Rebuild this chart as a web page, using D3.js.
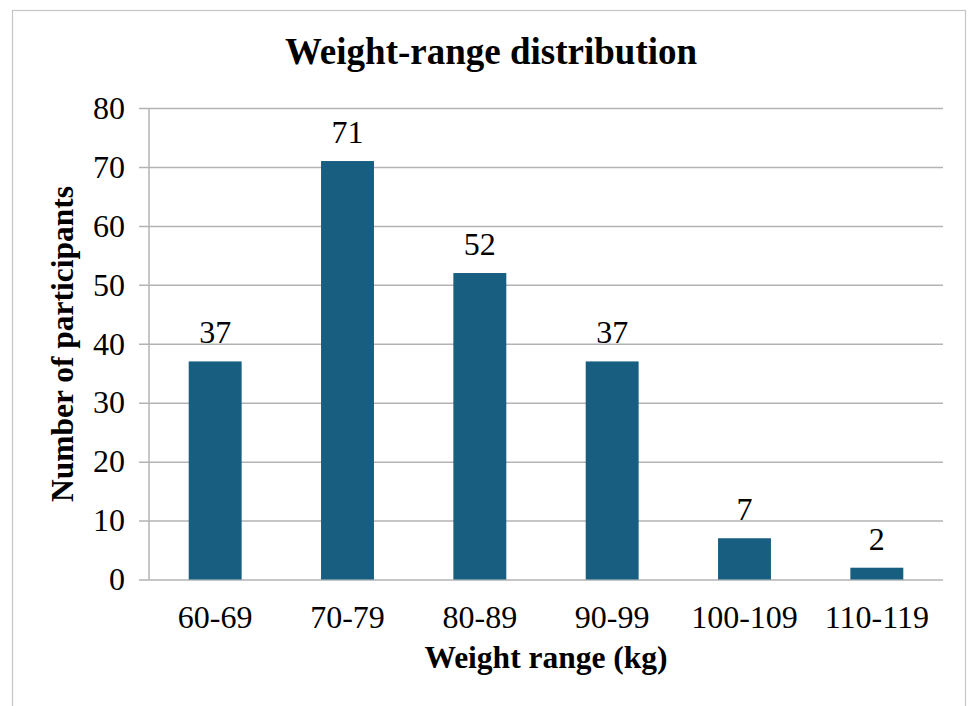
<!DOCTYPE html>
<html>
<head>
<meta charset="utf-8">
<script src="https://cdn.jsdelivr.net/npm/d3@7"></script>
<style>
  html, body { margin: 0; padding: 0; background: #ffffff; }
  svg { display: block; }
  svg text { font-family: "Liberation Serif", "Times New Roman", serif; }
</style>
</head>
<body>
<svg id="chart" width="974" height="706"></svg>
<script>
const categories = ["60-69", "70-79", "80-89", "90-99", "100-109", "110-119"];
const values = [37, 71, 52, 37, 7, 2];
const yTicks = [0, 10, 20, 30, 40, 50, 60, 70, 80];
const titleText = "Weight-range distribution";
const xTitle = "Weight range (kg)";
const yTitle = "Number of participants";

const FONT = '"Liberation Serif", "Times New Roman", serif';
const svg = d3.select("#chart");
const plot = { left: 149, right: 943, top: 108, bottom: 579.5 };

// outer chart border
svg.append("rect")
  .attr("x", 12.5).attr("y", 10.5)
  .attr("width", 953).attr("height", 720)
  .attr("fill", "#ffffff")
  .attr("stroke", "#c6c6c6").attr("stroke-width", 1.2);

const x = d3.scaleBand().domain(categories).range([plot.left, plot.right]).paddingInner(0.6).paddingOuter(0.3);
const y = d3.scaleLinear().domain([0, 80]).range([plot.bottom, plot.top]);

// gridlines + y axis
const yAxis = d3.axisLeft(y).tickValues(yTicks).tickSize(plot.right - plot.left + 10).tickPadding(14).tickFormat(d3.format("d"));
const gy = svg.append("g").attr("transform", `translate(${plot.right},0)`).call(yAxis);
gy.attr("font-family", null);
gy.select(".domain").remove();
gy.selectAll(".tick line").attr("stroke", "#b3b3b3").attr("stroke-width", 1.5);
gy.selectAll(".tick text").style("font-family", FONT).attr("font-size", 32).attr("fill", "#000");

// vertical axis line
svg.append("line")
  .attr("x1", plot.left).attr("x2", plot.left)
  .attr("y1", plot.top).attr("y2", plot.bottom)
  .attr("stroke", "#b3b3b3").attr("stroke-width", 1.5);

// bars
svg.append("g").selectAll("rect").data(values).join("rect")
  .attr("x", (d, i) => x(categories[i]))
  .attr("y", d => y(d))
  .attr("width", x.bandwidth())
  .attr("height", d => y(0) - y(d))
  .attr("fill", "#175e80");

// data labels
svg.append("g").selectAll("text").data(values).join("text")
  .attr("x", (d, i) => x(categories[i]) + x.bandwidth() / 2)
  .attr("y", d => y(d) - 18)
  .attr("text-anchor", "middle")
  .style("font-family", FONT)
  .attr("font-size", 32)
  .attr("fill", "#000")
  .text(d => d);

// x axis labels
const xAxis = d3.axisBottom(x).tickSize(0).tickPadding(0);
const gx = svg.append("g").attr("transform", `translate(0,${plot.bottom})`).call(xAxis);
gx.attr("font-family", null);
gx.select(".domain").remove();
gx.selectAll(".tick text").style("font-family", FONT).attr("font-size", 32).attr("fill", "#000")
  .attr("dy", null).attr("y", 48);

// title
svg.append("text")
  .attr("x", 491).attr("y", 64)
  .attr("text-anchor", "middle")
  .style("font-family", FONT)
  .attr("font-size", 37).attr("font-weight", "bold")
  .attr("fill", "#000")
  .text(titleText);

// x title
svg.append("text")
  .attr("x", (plot.left + plot.right) / 2).attr("y", 668)
  .attr("text-anchor", "middle")
  .style("font-family", FONT)
  .attr("font-size", 31.5).attr("font-weight", "bold")
  .attr("fill", "#000")
  .text(xTitle);

// y title
svg.append("text")
  .attr("transform", `translate(73,344) rotate(-90)`)
  .attr("text-anchor", "middle")
  .style("font-family", FONT)
  .attr("font-size", 31.5).attr("font-weight", "bold")
  .attr("fill", "#000")
  .text(yTitle);
</script>
</body>
</html>
